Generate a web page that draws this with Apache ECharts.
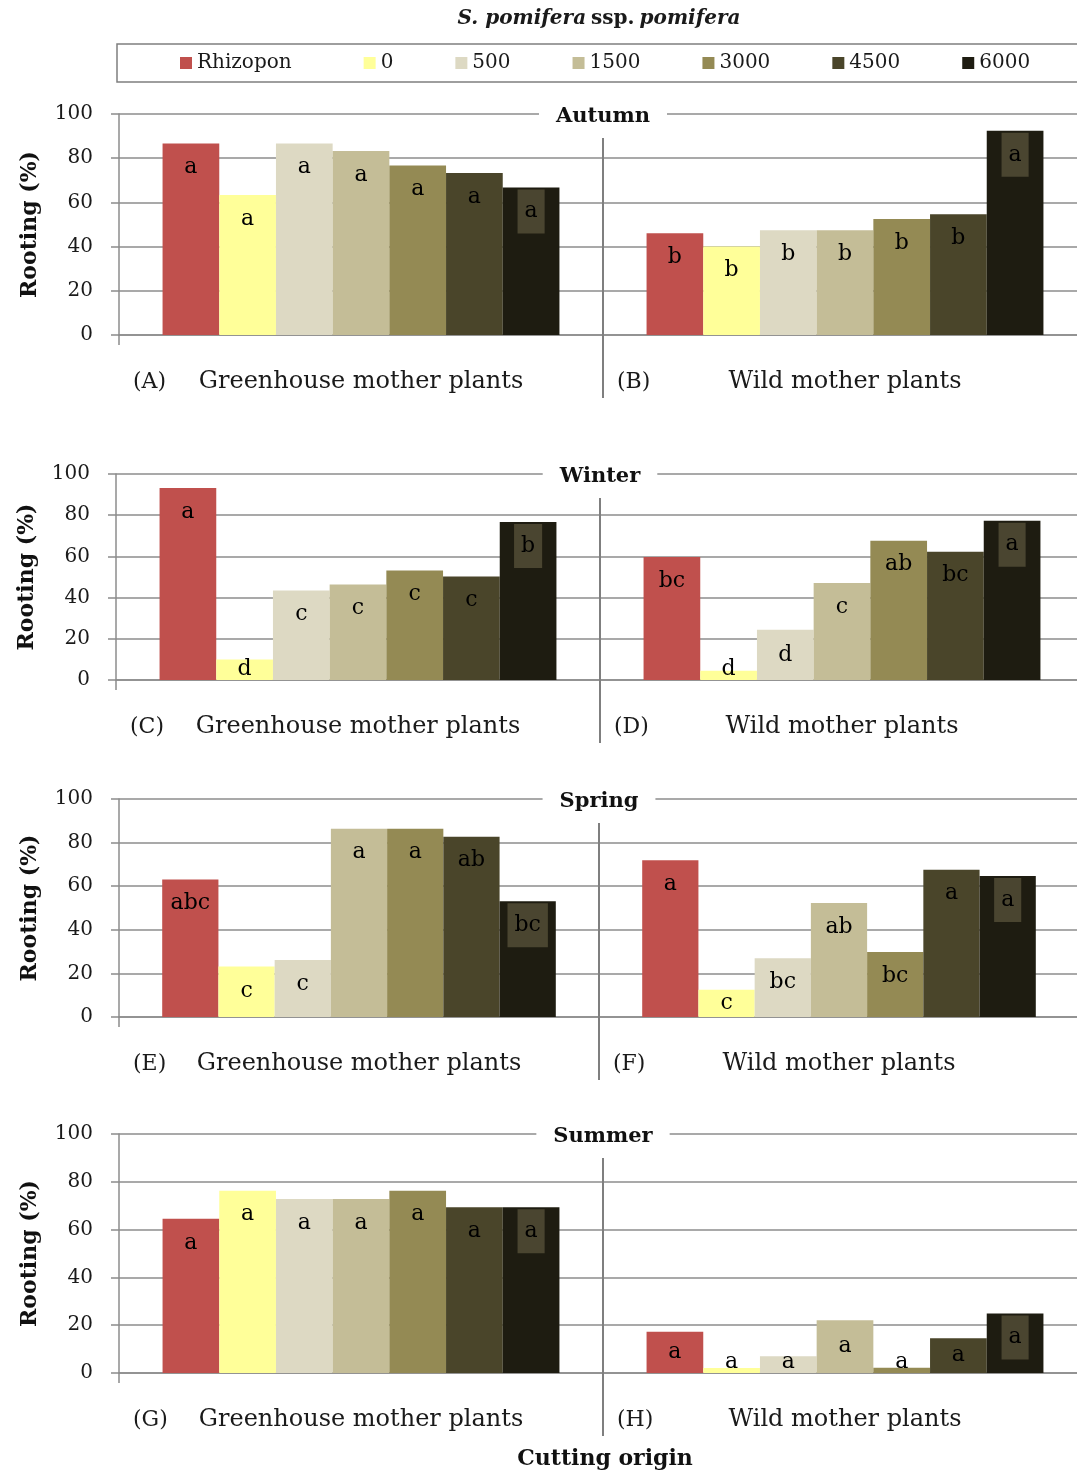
<!DOCTYPE html>
<html>
<head>
<meta charset="utf-8">
<title>Rooting of S. pomifera ssp. pomifera cuttings</title>
<script src="https://cdn.jsdelivr.net/npm/echarts@6/dist/echarts.min.js"></script>
<style>
  html, body { margin: 0; padding: 0; background: #ffffff; }
  #chart { width: 1077px; height: 1474px; }
</style>
</head>
<body>
<div id="chart"></div>
<script>
// ---- data -------------------------------------------------------------
const treatments = ['Rhizopon', '0', '500', '1500', '3000', '4500', '6000'];
const origins = ['Greenhouse mother plants', 'Wild mother plants'];
const seasons = ['Autumn', 'Winter', 'Spring', 'Summer'];
const panelTags = [['(A)', '(B)'], ['(C)', '(D)'], ['(E)', '(F)'], ['(G)', '(H)']];
const yTicks = [0, 20, 40, 60, 80, 100];

// rooting (%) per treatment, in the order of `treatments`
const autumnGreenhouse = [86.7, 63.3, 86.7, 83.3, 76.7, 73.3, 66.7];
const autumnWild       = [46.0, 40.0, 47.4, 47.4, 52.5, 54.6, 92.4];
const winterGreenhouse = [93.2, 10.0, 43.4, 46.4, 53.2, 50.2, 76.7];
const winterWild       = [59.7, 4.5, 24.4, 47.1, 67.6, 62.3, 77.3];
const springGreenhouse = [63.1, 23.2, 26.1, 86.4, 86.4, 82.7, 53.1];
const springWild       = [71.9, 12.5, 26.9, 52.3, 29.8, 67.6, 64.7];
const summerGreenhouse = [64.5, 76.3, 72.8, 72.8, 76.3, 69.3, 69.3];
const summerWild       = [17.3, 2.1, 7.0, 22.1, 2.2, 14.5, 24.9];

// significance letters, same order
const autumnGreenhouseLetters = ['a', 'a', 'a', 'a', 'a', 'a', 'a'];
const autumnWildLetters       = ['b', 'b', 'b', 'b', 'b', 'b', 'a'];
const winterGreenhouseLetters = ['a', 'd', 'c', 'c', 'c', 'c', 'b'];
const winterWildLetters       = ['bc', 'd', 'd', 'c', 'ab', 'bc', 'a'];
const springGreenhouseLetters = ['abc', 'c', 'c', 'a', 'a', 'ab', 'bc'];
const springWildLetters       = ['a', 'c', 'bc', 'ab', 'bc', 'a', 'a'];
const summerGreenhouseLetters = ['a', 'a', 'a', 'a', 'a', 'a', 'a'];
const summerWildLetters       = ['a', 'a', 'a', 'a', 'a', 'a', 'a'];

// ---- assembly ---------------------------------------------------------
const values = [
  [autumnGreenhouse, autumnWild],
  [winterGreenhouse, winterWild],
  [springGreenhouse, springWild],
  [summerGreenhouse, summerWild]
];
const letters = [
  [autumnGreenhouseLetters, autumnWildLetters],
  [winterGreenhouseLetters, winterWildLetters],
  [springGreenhouseLetters, springWildLetters],
  [summerGreenhouseLetters, summerWildLetters]
];

const colors = ['#c0504d', '#ffff99', '#ddd9c3', '#c4bd97', '#948a54', '#4a452a', '#1e1c11'];
const FONT = 'DejaVu Serif';
const GRID_GRAY = '#8c8c8c';

// plot rectangles of the four season panels
const panels = [
  { left: 119, top: 114, width: 968, height: 221 },
  { left: 116, top: 474, width: 968, height: 206 },
  { left: 119, top: 799, width: 960, height: 218 },
  { left: 119, top: 1134, width: 968, height: 239 }
];

function letterLabel(v, boxed) {
  const base = { show: true, fontFamily: FONT, fontSize: 22, color: '#000' };
  if (boxed) {
    return Object.assign(base, { position: 'insideTop', distance: 2,
      backgroundColor: '#4a4530', padding: [11, 7, 11, 7] });
  }
  if (v < 9) return Object.assign(base, { position: 'insideBottom', distance: 0 });
  if (v < 25) return Object.assign(base, { position: 'inside' });
  return Object.assign(base, { position: 'insideTop', distance: 13 });
}

const grids = [], xAxes = [], yAxes = [], series = [], titles = [];

titles.push({
  text: '{i|S. pomifera} {n|ssp.} {i|pomifera}',
  left: 599, top: 9, textAlign: 'center', padding: 0,
  textStyle: {
    rich: {
      i: { fontFamily: FONT, fontStyle: 'italic', fontWeight: 'bold', fontSize: 20, color: '#1a1a1a' },
      n: { fontFamily: FONT, fontWeight: 'bold', fontSize: 20, color: '#1a1a1a' }
    }
  }
});

panels.forEach((box, p) => {
  const catWidth = box.width / 2;
  const nameW = 340;
  const side = (catWidth - nameW) / 2;
  const tagInset = 14;
  grids.push({ left: box.left, top: box.top, width: box.width, height: box.height,
    outerBoundsMode: 'none', containLabel: false });

  xAxes.push({
    type: 'category', gridIndex: p, data: origins,
    axisLine: { show: true, lineStyle: { color: GRID_GRAY, width: 1.5 } },
    axisTick: { show: true, interval: 0, length: 10, lineStyle: { color: GRID_GRAY, width: 1.5 } },
    splitLine: { show: false },
    axisLabel: {
      interval: 0, margin: 35,
      formatter: (name, idx) => '{p|' + panelTags[p][idx] + '}{n|' + name + '}{q| }',
      rich: {
        p: { width: side - tagInset, align: 'left', padding: [0, 0, 0, tagInset],
             fontSize: 22, fontFamily: FONT, color: '#1a1a1a' },
        n: { width: nameW, align: 'center', fontSize: 24, fontFamily: FONT, color: '#1a1a1a' },
        q: { width: side, fontSize: 22, fontFamily: FONT }
      }
    }
  });

  yAxes.push({
    type: 'value', gridIndex: p, min: yTicks[0], max: yTicks[yTicks.length - 1], interval: 20,
    axisLine: { show: true, lineStyle: { color: GRID_GRAY, width: 1.5 } },
    axisTick: { show: true, length: 8, lineStyle: { color: GRID_GRAY, width: 1.5 } },
    splitLine: { show: true, lineStyle: { color: GRID_GRAY, width: 1.5 } },
    axisLabel: { fontFamily: FONT, fontSize: 20, color: '#1a1a1a', margin: 26 },
    name: 'Rooting (%)', nameLocation: 'middle', nameRotate: 90, nameGap: 78,
    nameTextStyle: { fontFamily: FONT, fontWeight: 'bold', fontSize: 22, color: '#111' }
  });

  titles.push({
    text: seasons[p],
    left: box.left + catWidth - 17, top: box.top - 10, textAlign: 'center',
    padding: [2, 17, 2, 17], backgroundColor: '#ffffff',
    textStyle: { fontFamily: FONT, fontWeight: 'bold', fontSize: 21, color: '#111' }
  });

  treatments.forEach((t, k) => {
    const boxed = k === treatments.length - 1;
    series.push({
      type: 'bar', name: t, xAxisIndex: p, yAxisIndex: p,
      barGap: '0%', barCategoryGap: '18%',
      itemStyle: { color: colors[k] },
      emphasis: { disabled: true },
      label: {
        show: true,
        formatter: (prm) => letters[p][prm.dataIndex][k]
      },
      data: values[p].map((arr) => ({ value: arr[k], label: letterLabel(arr[k], boxed) }))
    });
  });
});

titles.push({
  text: 'Cutting origin', left: 605, top: 1448, textAlign: 'center', padding: 0,
  textStyle: { fontFamily: FONT, fontWeight: 'bold', fontSize: 22, color: '#111' }
});

const chart = echarts.init(document.getElementById('chart'), null, { renderer: 'canvas' });
chart.setOption({
  backgroundColor: '#ffffff',
  animation: false,
  color: colors,
  title: titles,
  legend: {
    data: treatments,
    left: 117, top: 44, width: 960,
    orient: 'horizontal',
    padding: [9, 60, 9, 63],
    itemGap: 62, itemWidth: 12, itemHeight: 12,
    icon: 'rect',
    borderColor: '#7f7f7f', borderWidth: 1.5,
    selectedMode: false,
    // a little extra room after the first, longer entry
    formatter: (name) => (name === treatments[0] ? name + '\u2002' : name),
    textStyle: { fontFamily: FONT, fontSize: 20, color: '#1a1a1a' }
  },
  grid: grids,
  xAxis: xAxes,
  yAxis: yAxes,
  series: series
});

// vertical separators between the two cutting origins of each panel
const separators = panels.map((box, p) => {
  const x0 = chart.convertToPixel({ xAxisIndex: p }, origins[0]);
  const x1 = chart.convertToPixel({ xAxisIndex: p }, origins[1]);
  const xm = (x0 + x1) / 2;
  const yTop = chart.convertToPixel({ yAxisIndex: p }, yTicks[yTicks.length - 1]) + 24;
  const yBot = chart.convertToPixel({ yAxisIndex: p }, yTicks[0]) + 63;
  return {
    type: 'line', z: 1, silent: true,
    shape: { x1: xm, y1: yTop, x2: xm, y2: yBot },
    style: { stroke: '#7f7f7f', lineWidth: 2 }
  };
});
chart.setOption({ graphic: separators });
</script>
</body>
</html>
